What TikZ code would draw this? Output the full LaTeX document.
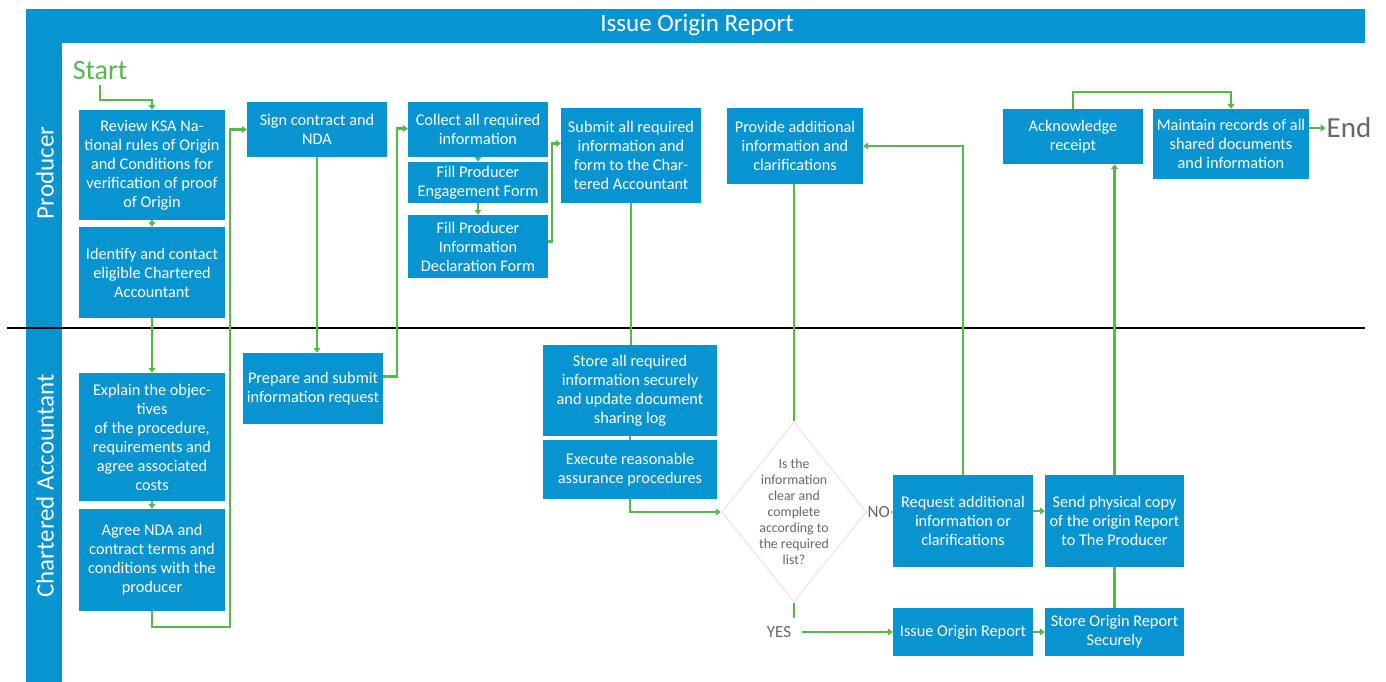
\documentclass[tikz,border=0pt]{standalone}
\usepackage{fontspec}
\setmainfont{Carlito}
\usepackage{tikz}
\usetikzlibrary{arrows.meta,shapes.geometric}
\definecolor{laneblue}{rgb}{0.03,0.58,0.82}
\definecolor{flowgreen}{rgb}{0.33,0.72,0.30}
\definecolor{notegray}{rgb}{0.40,0.40,0.40}

\begin{document}
\begin{tikzpicture}[x=1pt,y=-1pt,
        procbox/.style={rectangle,fill=laneblue,text=white,inner sep=0pt,align=center,
            font=\fontsize{16.3}{19}\selectfont},
        flowline/.style={draw=flowgreen,line width=2.2pt},
        flow/.style={flowline,-{Triangle[width=7pt,length=5pt]}},
        lbl/.style={text=notegray,font=\fontsize{17}{19}\selectfont,inner sep=1pt}
    ]
    \useasboundingbox (0,0) rectangle (1386,682);
    % lanes
    \fill[laneblue] (26,9) rectangle (1365,43);
    \fill[laneblue] (26,9) rectangle (62,682);
    \draw[line width=2pt] (7,328) -- (1365,328);
    \node[text=white,font=\fontsize{25}{28}\selectfont] (title) at (697,25) {Issue Origin Report};
    \node[text=white,rotate=90,font=\fontsize{25}{28}\selectfont] (lanep) at (45,173) {Producer};
    \node[text=white,rotate=90,font=\fontsize{25}{28}\selectfont] (lanec) at (45,486) {Chartered Accountant};
    % start / end
    \node[text=flowgreen,font=\fontsize{28}{30}\selectfont,inner sep=1pt] (start) at (100,71) {Start};
    \node[text=notegray,font=\fontsize{29}{30}\selectfont,inner sep=1pt] (endnode) at (1349,128) {End};
    % producer steps
    \node[procbox,minimum width=146,minimum height=110] (review) at (152,165)
        {Review KSA Na-\\tional rules of Origin\\and Conditions for\\verification of proof\\of Origin};
    \node[procbox,minimum width=146,minimum height=91] (identify) at (152,272.5)
        {Identify and contact\\eligible Chartered\\Accountant};
    \node[procbox,minimum width=140,minimum height=55] (sign) at (317,129.5)
        {Sign contract and\\NDA};
    \node[procbox,minimum width=140,minimum height=55] (collect) at (478,129.5)
        {Collect all required\\information};
    \node[procbox,minimum width=140,minimum height=41] (engage) at (478,182.5)
        {Fill Producer\\Engagement Form};
    \node[procbox,minimum width=140,minimum height=63] (declare) at (478,246.5)
        {Fill Producer\\Information\\Declaration Form};
    \node[procbox,minimum width=140,minimum height=95] (submit) at (631,155.5)
        {Submit all required\\information and\\form to the Char-\\tered Accountant};
    \node[procbox,minimum width=136,minimum height=76] (provide) at (795,146)
        {Provide additional\\information and\\clarifications};
    \node[procbox,minimum width=140,minimum height=55] (ack) at (1073,136.5)
        {Acknowledge\\receipt};
    \node[procbox,minimum width=156,minimum height=70] (maintain) at (1231,144)
        {Maintain records of all\\shared documents\\and information};
    % chartered accountant steps
    \node[procbox,minimum width=146,minimum height=128] (explain) at (152,437)
        {Explain the objec-\\tives\\of the procedure,\\requirements and\\agree associated\\costs};
    \node[procbox,minimum width=146,minimum height=102] (agree) at (152,560)
        {Agree NDA and\\contract terms and\\conditions with the\\producer};
    \node[procbox,minimum width=140,minimum height=71] (prepare) at (313,388.5)
        {Prepare and submit\\information request};
    \node[procbox,minimum width=174,minimum height=91] (storeinfo) at (630,390.5)
        {Store all required\\information securely\\and update document\\sharing log};
    \node[procbox,minimum width=174,minimum height=59] (execute) at (630,469.5)
        {Execute reasonable\\assurance procedures};
    \node[diamond,draw=black!8,line width=1.5pt,fill=white,minimum width=145,minimum height=180,inner sep=0pt,
        label={[text=notegray,align=center,font=\fontsize{13.8}{16}\selectfont]center:Is the\\information\\clear and\\complete\\according to\\the required\\list?}]
        (dia) at (794,512) {};
    \node[procbox,minimum width=140,minimum height=92] (request) at (963,521)
        {Request additional\\information or\\clarifications};
    \node[procbox,minimum width=139,minimum height=92] (send) at (1114.5,521)
        {Send physical copy\\of the origin Report\\to The Producer};
    \node[procbox,minimum width=140,minimum height=48] (issue) at (963,632)
        {Issue Origin Report};
    \node[procbox,minimum width=139,minimum height=48] (storereport) at (1114.5,632)
        {Store Origin Report\\Securely};
    \node[lbl] (yes) at ([xshift=-15pt]dia.south |- issue.west) {YES};
    % connectors
    \draw[flow] ([yshift=-4pt]start.south) |- ([yshift=10pt]review.north) -- (review.north);
    \draw[flow] (review.south) -- (identify.north);
    \draw[flow] (identify.south) -- (explain.north);
    \draw[flow] (explain.south) -- (agree.north);
    \draw[flow] (agree.south) -- ++(0,16) -| ([xshift=-17pt]sign.west) -- (sign.west);
    \draw[flow] (sign.south) -- (sign.south |- prepare.north);
    \draw[flow] ([yshift=12pt]prepare.east) -- ++(14,0) |- ([yshift=1pt]collect.west);
    \draw[flow] (collect.south) -- (engage.north);
    \draw[flow] (engage.south) -- (declare.north);
    \draw[flow] ([yshift=5pt]declare.east) -- ++(4,0) |- ([yshift=12pt]submit.west);
    \draw[flowline] (submit.south) -- (submit.south |- storeinfo.north);
    \draw[flowline] (storeinfo.south) -- (execute.north);
    \draw[flow] (execute.south) |- (dia.west);
    \draw[flowline] (dia.north) -- (dia.north |- provide.south);
    \draw[flow] (dia.east) -- node[lbl,fill=white,pos=0.45] (no) {NO} (dia.east -| request.west);
    \draw[flowline] (dia.south) -- ++(0,15);
    \draw[flow] ([xshift=10pt]yes.east) -- (issue.west);
    \draw[flow] (request.north) |- (provide.east);
    \draw[flow] ([yshift=10pt]request.east) -- ([yshift=10pt]send.west);
    \draw[flow] (issue.east) -- (storereport.west);
    \draw[flowline] (send.south) -- (storereport.north);
    \draw[flow] (send.north) -- (send.north |- ack.south);
    \draw[flow] (ack.north) -- ++(0,-17) -| (maintain.north);
    \draw[flow] ([yshift=16pt]maintain.east) -- (endnode.west);
\end{tikzpicture}
\end{document}
